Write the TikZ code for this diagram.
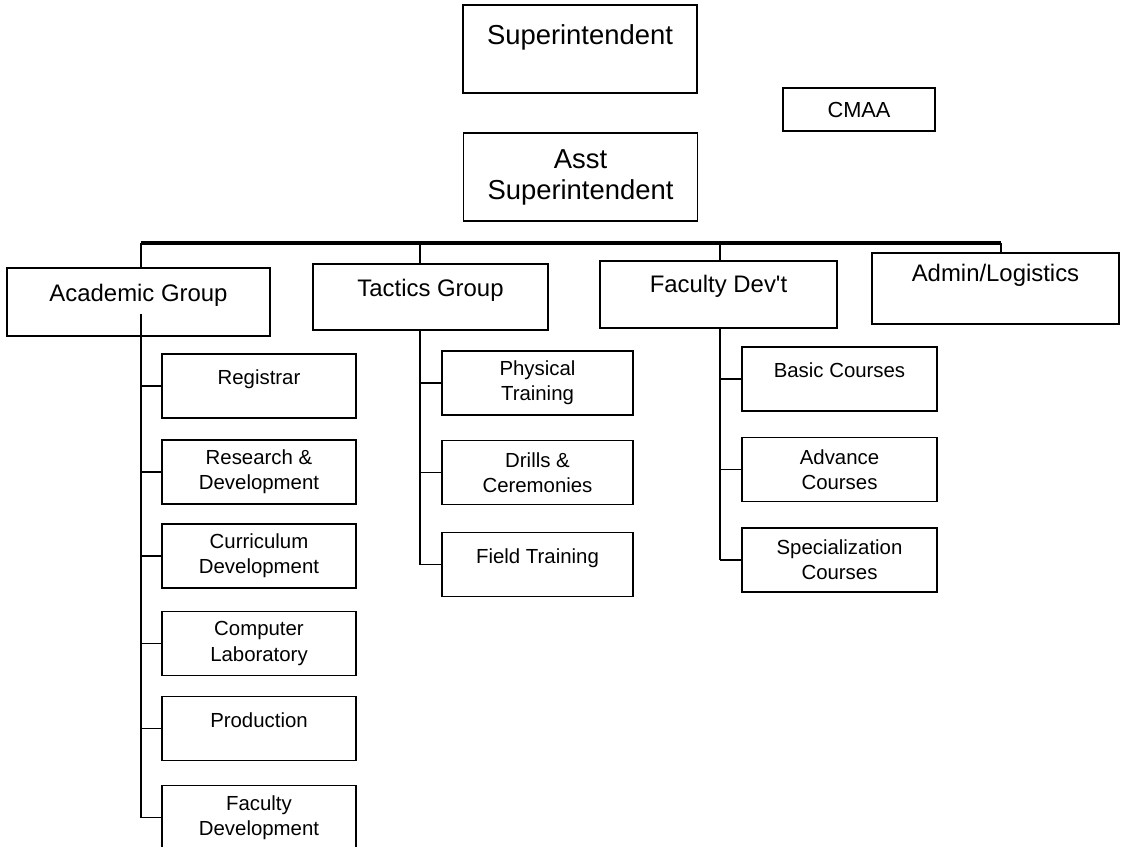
\documentclass[tikz,border=0pt]{standalone}
\usepackage{fontspec}
\setmainfont{Liberation Sans}
\usetikzlibrary{positioning,calc}

\tikzset{
  box/.style={draw, line width=0.8pt, align=center, inner sep=2pt},
  topbox/.style={box, font=\fontsize{19.5}{22}\selectfont, minimum width=5.85cm, minimum height=2.2cm},
  groupbox/.style={box, font=\fontsize{17}{20}\selectfont, minimum width=5.9cm, minimum height=1.7cm, text height=0.43cm, text depth=0.45cm},
  subbox/.style={box, font=\fontsize{14.5}{17.8}\selectfont, minimum width=4.85cm, minimum height=1.6cm},
  oneline/.style={text height=0.37cm, text depth=0.42cm},
  trunk/.style={line width=0.8pt},
  bus/.style={line width=2.2pt}
}

\begin{document}
\begin{tikzpicture}[x=0.025cm, y=-0.025cm]
\clip (0,0) rectangle (1121,847);
% top of the chart
\node[topbox, text height=0.49cm, text depth=0.72cm] (supt) at (580,49) {Superintendent};
\node[topbox] (asst) at (580.5,177) {Asst\\Superintendent};
\node[box, font=\fontsize{15.5}{18}\selectfont, minimum width=3.8cm, minimum height=1.075cm] (cmaa) at (859,109.5) {CMAA};

% groups
\node[groupbox, minimum width=6.575cm] (acad) at (138.5,302) {Academic Group};
\node[groupbox, minimum width=5.875cm, minimum height=1.65cm] (tact) at (430.5,297) {Tactics Group};
\node[groupbox, minimum width=5.925cm, minimum height=1.675cm, text depth=0.55cm] (facdev) at (718.5,294.5) {Faculty Dev\textquotesingle t};
\node[groupbox, minimum width=6.175cm, minimum height=1.775cm, text depth=0.78cm] (admin) at (995.5,288.5) {Admin/Logistics};

% academic group units
\node[subbox, oneline] (reg) at (259,386) {Registrar};
\node[subbox] (resdev) at (259,472) {Research \&\\Development};
\node[subbox] (curdev) at (259,556) {Curriculum\\Development};
\node[subbox] (complab) at (259,643.5) {Computer\\Laboratory};
\node[subbox, oneline] (prod) at (259,728.5) {Production};
\node[subbox] (facdevt) at (259,817.5) {Faculty\\Development};

% tactics group units
\node[subbox, minimum width=4.775cm] (phys) at (537.5,383) {Physical\\Training};
\node[subbox, minimum width=4.775cm] (drill) at (537.5,472.5) {Drills \&\\Ceremonies};
\node[subbox, minimum width=4.775cm, oneline] (field) at (537.5,564.5) {Field Training};

% faculty dev't units
\node[subbox, minimum width=4.875cm, oneline] (basic) at (839.5,379) {Basic Courses};
\node[subbox, minimum width=4.875cm] (advance) at (839.5,469.5) {Advance\\Courses};
\node[subbox, minimum width=4.875cm] (special) at (839.5,560) {Specialization\\Courses};

% bus and drops
\coordinate (acadtop) at (141,243);
\coordinate (tacttop) at (420,243);
\coordinate (factop) at (720,243);
\coordinate (admintop) at (1001,243);
\draw[bus] (acadtop) -- (admintop);
\draw[trunk] (acadtop) -- (acadtop |- acad.north);
\draw[trunk] (tacttop) -- (tacttop |- tact.north);
\draw[trunk] (factop) -- (factop |- facdev.north);
\draw[trunk] (admintop) -- (admintop |- admin.north);

% academic stem
\coordinate (acadstem) at ($(acad.south -| acadtop)+(0,-23)$);
\draw[trunk] (acadstem) -- (acadstem |- facdevt.west);
\draw[trunk] (reg.west -| acadstem) -- (reg.west);
\draw[trunk] (resdev.west -| acadstem) -- (resdev.west);
\draw[trunk] (curdev.west -| acadstem) -- (curdev.west);
\draw[trunk] (complab.west -| acadstem) -- (complab.west);
\draw[trunk] (prod.west -| acadstem) -- (prod.west);
\draw[trunk] (facdevt.west -| acadstem) -- (facdevt.west);

% tactics stem
\draw[trunk] (tact.south -| tacttop) -- (tacttop |- field.west);
\draw[trunk] (phys.west -| tacttop) -- (phys.west);
\draw[trunk] (drill.west -| tacttop) -- (drill.west);
\draw[trunk] (field.west -| tacttop) -- (field.west);

% faculty dev't stem
\draw[trunk] (facdev.south -| factop) -- (factop |- special.west);
\draw[trunk] (basic.west -| factop) -- (basic.west);
\draw[trunk] (advance.west -| factop) -- (advance.west);
\draw[trunk] (special.west -| factop) -- (special.west);
\end{tikzpicture}
\end{document}
